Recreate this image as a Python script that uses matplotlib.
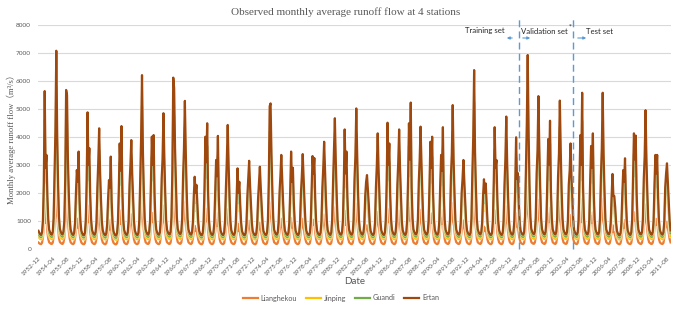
import numpy as np
import pandas as pd
import matplotlib
matplotlib.use("Agg")
import matplotlib.pyplot as plt
import matplotlib.patheffects as pe

# Observed monthly mean runoff (m3/s).
# first row = Dec 1952, then one row per year (Jan..Dec) 1953-2011
ertan = [
    [650],
    [580, 520, 500, 590, 1000, 2300, 5640, 2900, 3360, 1900, 1050, 690],
    [600, 530, 510, 600, 1100, 2600, 4200, 7080, 4100, 2300, 1150, 720],
    [620, 540, 520, 620, 1000, 2500, 5680, 5500, 3200, 2000, 1100, 700],
    [590, 520, 500, 580, 950, 2000, 2820, 2400, 3480, 1800, 1000, 660],
    [560, 500, 490, 570, 1000, 2400, 4880, 3000, 3600, 1900, 1050, 680],
    [590, 520, 510, 600, 950, 2200, 3100, 4310, 2800, 1800, 1000, 670],
    [570, 510, 490, 560, 900, 1800, 2460, 2200, 3300, 1700, 950, 640],
    [550, 490, 480, 560, 950, 2100, 3770, 2800, 4390, 2100, 1050, 680],
    [580, 520, 500, 590, 1000, 2300, 3000, 3890, 2700, 1800, 1000, 660],
    [570, 510, 500, 580, 1050, 2600, 4000, 6210, 3500, 2100, 1100, 700],
    [600, 530, 510, 600, 1000, 2400, 4010, 3000, 4070, 2000, 1050, 690],
    [590, 520, 510, 590, 1050, 2500, 3200, 4850, 3300, 2000, 1050, 690],
    [600, 530, 520, 610, 1150, 2800, 6120, 5740, 3600, 2300, 1150, 720],
    [620, 550, 530, 620, 1100, 2600, 3600, 5290, 3500, 2100, 1100, 700],
    [600, 530, 510, 590, 950, 1900, 2580, 2000, 2290, 1600, 950, 650],
    [560, 500, 490, 570, 950, 2200, 4010, 3100, 4490, 2000, 1050, 680],
    [580, 510, 500, 580, 950, 2000, 3180, 2600, 4040, 1900, 1000, 660],
    [570, 510, 500, 580, 1000, 2200, 3200, 4430, 3000, 1900, 1000, 670],
    [580, 520, 500, 580, 900, 1900, 2880, 2000, 2400, 1600, 950, 640],
    [560, 500, 490, 560, 900, 1900, 2500, 3150, 2300, 1600, 950, 640],
    [560, 500, 490, 560, 900, 1800, 2400, 2940, 2200, 1600, 950, 640],
    [570, 510, 500, 580, 1000, 2400, 5100, 5200, 3400, 2100, 1100, 690],
    [600, 530, 510, 590, 950, 2000, 2600, 3360, 2500, 1700, 1000, 660],
    [580, 520, 500, 580, 950, 2100, 3480, 2400, 2900, 1700, 1000, 660],
    [570, 510, 500, 570, 950, 2000, 2600, 3390, 2500, 1700, 1000, 660],
    [570, 510, 500, 570, 950, 2100, 3320, 2700, 3250, 1800, 1000, 660],
    [570, 510, 500, 580, 1000, 2200, 2900, 3830, 2800, 1800, 1000, 670],
    [580, 520, 500, 590, 1050, 2400, 3500, 4670, 3200, 2000, 1050, 680],
    [590, 520, 510, 590, 1000, 2300, 4270, 2700, 3480, 1900, 1050, 680],
    [590, 520, 510, 590, 1050, 2500, 3300, 5020, 3400, 2000, 1050, 690],
    [600, 530, 510, 590, 900, 1900, 2400, 2640, 2100, 1600, 950, 650],
    [570, 510, 500, 570, 950, 2200, 3000, 4130, 2800, 1900, 1000, 670],
    [580, 520, 500, 580, 1000, 2300, 4510, 3000, 3770, 1900, 1050, 680],
    [590, 520, 510, 590, 1000, 2300, 3100, 4270, 2900, 1900, 1000, 670],
    [580, 520, 500, 590, 1050, 2500, 4490, 3200, 5230, 2200, 1100, 700],
    [610, 540, 520, 610, 1050, 2400, 3200, 4370, 3100, 2000, 1050, 690],
    [600, 530, 510, 600, 1000, 2300, 3830, 2900, 4010, 2000, 1050, 680],
    [590, 520, 510, 590, 1000, 2300, 3360, 2800, 4350, 2000, 1050, 690],
    [600, 530, 520, 600, 1050, 2600, 3400, 5140, 3200, 2000, 1050, 690],
    [600, 530, 510, 590, 950, 2000, 2500, 3180, 2400, 1700, 1000, 660],
    [580, 520, 500, 580, 1100, 2700, 4000, 6390, 3500, 2200, 1100, 710],
    [610, 540, 520, 600, 950, 1900, 2490, 2000, 2340, 1600, 950, 650],
    [570, 510, 500, 570, 1000, 2400, 4350, 2900, 3180, 1800, 1000, 670],
    [580, 520, 500, 580, 1000, 2300, 3200, 4730, 3100, 1900, 1050, 680],
    [590, 520, 510, 590, 1000, 2200, 3990, 2500, 2710, 1700, 1000, 660],
    [580, 520, 510, 600, 1150, 2900, 4500, 6930, 4200, 2300, 1150, 720],
    [620, 550, 530, 620, 1100, 2700, 3500, 5460, 3600, 2200, 1100, 710],
    [610, 540, 520, 610, 1050, 2500, 3930, 3000, 4580, 2100, 1100, 700],
    [610, 540, 520, 610, 1100, 2600, 3400, 5300, 3500, 2100, 1100, 700],
    [610, 540, 520, 600, 1000, 2300, 2800, 3770, 2600, 1800, 1050, 680],
    [590, 530, 510, 590, 1050, 2500, 4070, 3000, 5580, 2200, 1100, 700],
    [610, 540, 520, 610, 1050, 2500, 3680, 2900, 4130, 2000, 1050, 690],
    [600, 530, 520, 600, 1100, 2600, 3600, 5580, 3400, 2100, 1100, 700],
    [610, 540, 520, 600, 950, 1900, 2680, 1900, 1890, 1500, 950, 640],
    [560, 500, 490, 570, 950, 2000, 2820, 2400, 3240, 1800, 1000, 660],
    [580, 520, 500, 590, 1050, 2500, 4130, 3200, 4050, 2000, 1050, 690],
    [600, 530, 520, 600, 1050, 2500, 3300, 4960, 3200, 2000, 1050, 690],
    [600, 530, 510, 600, 1000, 2300, 3360, 2700, 3360, 1900, 1050, 680],
    [590, 530, 510, 590, 1000, 2200, 2700, 3060, 2400, 1700, 1000, 660],
]

guandi = [
    [550],
    [490, 440, 420, 500, 850, 1890, 4620, 2380, 2760, 1580, 880, 580],
    [500, 450, 430, 510, 930, 2130, 3440, 5810, 3360, 1910, 960, 600],
    [520, 460, 440, 520, 850, 2050, 4660, 4510, 2620, 1660, 920, 590],
    [500, 440, 420, 490, 810, 1640, 2310, 1970, 2850, 1490, 840, 560],
    [470, 420, 410, 480, 850, 1970, 4000, 2460, 2950, 1580, 880, 570],
    [500, 440, 430, 500, 810, 1800, 2540, 3530, 2300, 1490, 840, 560],
    [480, 430, 410, 470, 770, 1480, 2020, 1800, 2710, 1410, 800, 540],
    [460, 410, 400, 470, 810, 1720, 3090, 2300, 3600, 1740, 880, 570],
    [490, 440, 420, 500, 850, 1890, 2460, 3190, 2210, 1490, 840, 560],
    [480, 430, 420, 490, 890, 2130, 3280, 5090, 2870, 1740, 920, 590],
    [500, 450, 430, 500, 850, 1970, 3290, 2460, 3340, 1660, 880, 580],
    [500, 440, 430, 500, 890, 2050, 2620, 3980, 2710, 1660, 880, 580],
    [500, 450, 440, 510, 980, 2300, 5020, 4710, 2950, 1910, 960, 600],
    [520, 460, 450, 520, 930, 2130, 2950, 4340, 2870, 1740, 920, 590],
    [500, 450, 430, 500, 810, 1560, 2120, 1640, 1880, 1330, 800, 550],
    [470, 420, 410, 480, 810, 1800, 3290, 2540, 3680, 1660, 880, 570],
    [490, 430, 420, 490, 810, 1640, 2610, 2130, 3310, 1580, 840, 560],
    [480, 430, 420, 490, 850, 1800, 2620, 3630, 2460, 1580, 840, 560],
    [490, 440, 420, 490, 770, 1560, 2360, 1640, 1970, 1330, 800, 540],
    [470, 420, 410, 470, 770, 1560, 2050, 2580, 1890, 1330, 800, 540],
    [470, 420, 410, 470, 770, 1480, 1970, 2410, 1800, 1330, 800, 540],
    [480, 430, 420, 490, 850, 1970, 4180, 4260, 2790, 1740, 920, 580],
    [500, 450, 430, 500, 810, 1640, 2130, 2760, 2050, 1410, 840, 560],
    [490, 440, 420, 490, 810, 1720, 2850, 1970, 2380, 1410, 840, 560],
    [480, 430, 420, 480, 810, 1640, 2130, 2780, 2050, 1410, 840, 560],
    [480, 430, 420, 480, 810, 1720, 2720, 2210, 2670, 1490, 840, 560],
    [480, 430, 420, 490, 850, 1800, 2380, 3140, 2300, 1490, 840, 560],
    [490, 440, 420, 500, 890, 1970, 2870, 3830, 2620, 1660, 880, 570],
    [500, 440, 430, 500, 850, 1890, 3500, 2210, 2850, 1580, 880, 570],
    [500, 440, 430, 500, 890, 2050, 2710, 4120, 2790, 1660, 880, 580],
    [500, 450, 430, 500, 770, 1560, 1970, 2160, 1720, 1330, 800, 550],
    [480, 430, 420, 480, 810, 1800, 2460, 3390, 2300, 1580, 840, 560],
    [490, 440, 420, 490, 850, 1890, 3700, 2460, 3090, 1580, 880, 570],
    [500, 440, 430, 500, 850, 1890, 2540, 3500, 2380, 1580, 840, 560],
    [490, 440, 420, 500, 890, 2050, 3680, 2620, 4290, 1830, 920, 590],
    [510, 460, 440, 510, 890, 1970, 2620, 3580, 2540, 1660, 880, 580],
    [500, 450, 430, 500, 850, 1890, 3140, 2380, 3290, 1660, 880, 570],
    [500, 440, 430, 500, 850, 1890, 2760, 2300, 3570, 1660, 880, 580],
    [500, 450, 440, 500, 890, 2130, 2790, 4210, 2620, 1660, 880, 580],
    [500, 450, 430, 500, 810, 1640, 2050, 2610, 1970, 1410, 840, 560],
    [490, 440, 420, 490, 930, 2210, 3280, 5240, 2870, 1830, 920, 590],
    [510, 460, 440, 500, 810, 1560, 2040, 1640, 1920, 1330, 800, 550],
    [480, 430, 420, 480, 850, 1970, 3570, 2380, 2610, 1490, 840, 560],
    [490, 440, 420, 490, 850, 1890, 2620, 3880, 2540, 1580, 880, 570],
    [500, 440, 430, 500, 850, 1800, 3270, 2050, 2220, 1410, 840, 560],
    [490, 440, 430, 500, 980, 2380, 3690, 5680, 3440, 1910, 960, 600],
    [520, 460, 450, 520, 930, 2210, 2870, 4480, 2950, 1830, 920, 590],
    [510, 460, 440, 510, 890, 2050, 3220, 2460, 3760, 1740, 920, 590],
    [510, 460, 440, 510, 930, 2130, 2790, 4350, 2870, 1740, 920, 590],
    [510, 460, 440, 500, 850, 1890, 2300, 3090, 2130, 1490, 880, 570],
    [500, 450, 430, 500, 890, 2050, 3340, 2460, 4580, 1830, 920, 590],
    [510, 460, 440, 510, 890, 2050, 3020, 2380, 3390, 1660, 880, 580],
    [500, 450, 440, 500, 930, 2130, 2950, 4580, 2790, 1740, 920, 590],
    [510, 460, 440, 500, 810, 1560, 2200, 1560, 1550, 1250, 800, 540],
    [470, 420, 410, 480, 810, 1640, 2310, 1970, 2660, 1490, 840, 560],
    [490, 440, 420, 500, 890, 2050, 3390, 2620, 3320, 1660, 880, 580],
    [500, 450, 440, 500, 890, 2050, 2710, 4070, 2620, 1660, 880, 580],
    [500, 450, 430, 500, 850, 1890, 2760, 2210, 2760, 1580, 880, 570],
    [500, 450, 430, 500, 850, 1800, 2210, 2510, 1970, 1410, 840, 560],
]

jinping = [
    [450],
    [400, 360, 350, 410, 700, 1560, 3840, 1970, 2280, 1290, 730, 480],
    [410, 370, 350, 420, 770, 1770, 2860, 4810, 2790, 1560, 790, 500],
    [420, 370, 360, 430, 700, 1700, 3860, 3740, 2180, 1360, 750, 490],
    [400, 360, 350, 400, 670, 1360, 1920, 1630, 2370, 1220, 700, 460],
    [390, 350, 340, 400, 700, 1630, 3320, 2040, 2450, 1290, 730, 470],
    [410, 360, 350, 410, 670, 1500, 2110, 2930, 1900, 1220, 700, 470],
    [395, 355, 340, 390, 630, 1220, 1670, 1500, 2240, 1160, 670, 450],
    [380, 340, 330, 390, 670, 1430, 2560, 1900, 2990, 1430, 730, 470],
    [400, 360, 350, 410, 700, 1560, 2040, 2650, 1840, 1220, 700, 460],
    [395, 355, 350, 400, 740, 1770, 2720, 4220, 2380, 1430, 770, 490],
    [410, 370, 350, 410, 700, 1630, 2730, 2040, 2770, 1360, 730, 480],
    [410, 360, 350, 410, 740, 1700, 2180, 3300, 2240, 1360, 730, 480],
    [410, 370, 360, 420, 800, 1900, 4160, 3900, 2450, 1560, 800, 500],
    [420, 380, 360, 430, 770, 1770, 2450, 3600, 2380, 1430, 770, 490],
    [410, 370, 350, 410, 670, 1290, 1750, 1360, 1560, 1090, 670, 450],
    [390, 350, 340, 400, 670, 1500, 2730, 2110, 3050, 1360, 730, 470],
    [400, 355, 350, 400, 670, 1360, 2160, 1770, 2750, 1290, 700, 460],
    [395, 355, 350, 400, 700, 1500, 2180, 3010, 2040, 1290, 700, 470],
    [400, 360, 350, 400, 630, 1290, 1960, 1360, 1630, 1090, 670, 450],
    [390, 350, 340, 390, 630, 1290, 1700, 2140, 1560, 1090, 670, 450],
    [390, 350, 340, 390, 630, 1220, 1630, 2000, 1500, 1090, 670, 450],
    [395, 355, 350, 400, 700, 1630, 3470, 3540, 2310, 1430, 770, 480],
    [410, 370, 350, 410, 670, 1360, 1770, 2280, 1700, 1160, 700, 460],
    [400, 360, 350, 400, 670, 1430, 2370, 1630, 1970, 1160, 700, 460],
    [395, 355, 350, 395, 670, 1360, 1770, 2310, 1700, 1160, 700, 460],
    [395, 355, 350, 395, 670, 1430, 2260, 1840, 2210, 1220, 700, 460],
    [395, 355, 350, 400, 700, 1500, 1970, 2600, 1900, 1220, 700, 470],
    [400, 360, 350, 410, 740, 1630, 2380, 3180, 2180, 1360, 730, 470],
    [410, 360, 350, 410, 700, 1560, 2900, 1840, 2370, 1290, 730, 470],
    [410, 360, 350, 410, 740, 1700, 2240, 3410, 2310, 1360, 730, 480],
    [410, 370, 350, 410, 630, 1290, 1630, 1800, 1430, 1090, 670, 450],
    [395, 355, 350, 395, 670, 1500, 2040, 2810, 1900, 1290, 700, 470],
    [400, 360, 350, 400, 700, 1560, 3070, 2040, 2560, 1290, 730, 470],
    [410, 360, 350, 410, 700, 1560, 2110, 2900, 1970, 1290, 700, 470],
    [400, 360, 350, 410, 740, 1700, 3050, 2180, 3560, 1500, 770, 490],
    [420, 370, 360, 420, 740, 1630, 2180, 2970, 2110, 1360, 730, 480],
    [410, 370, 350, 410, 700, 1560, 2600, 1970, 2730, 1360, 730, 470],
    [410, 360, 350, 410, 700, 1560, 2280, 1900, 2960, 1360, 730, 480],
    [410, 370, 360, 410, 740, 1770, 2310, 3500, 2180, 1360, 730, 480],
    [410, 370, 350, 410, 670, 1360, 1700, 2160, 1630, 1160, 700, 460],
    [400, 360, 350, 400, 770, 1840, 2720, 4350, 2380, 1500, 770, 490],
    [420, 370, 360, 410, 670, 1290, 1690, 1360, 1590, 1090, 670, 450],
    [395, 355, 350, 395, 700, 1630, 2960, 1970, 2160, 1220, 700, 470],
    [400, 360, 350, 400, 700, 1560, 2180, 3220, 2110, 1290, 730, 470],
    [410, 360, 350, 410, 700, 1500, 2710, 1700, 1840, 1160, 700, 460],
    [400, 360, 350, 410, 800, 1970, 3060, 4710, 2860, 1560, 800, 500],
    [420, 380, 360, 430, 770, 1840, 2380, 3710, 2450, 1500, 770, 490],
    [420, 370, 360, 420, 740, 1700, 2670, 2040, 3110, 1430, 770, 490],
    [420, 370, 360, 420, 770, 1770, 2310, 3600, 2380, 1430, 770, 490],
    [420, 370, 360, 410, 700, 1560, 1900, 2560, 1770, 1220, 730, 470],
    [410, 370, 350, 410, 740, 1700, 2770, 2040, 3790, 1500, 770, 490],
    [420, 370, 360, 420, 740, 1700, 2500, 1970, 2810, 1360, 730, 480],
    [410, 370, 360, 410, 770, 1770, 2450, 3790, 2310, 1430, 770, 490],
    [420, 370, 360, 410, 670, 1290, 1820, 1290, 1290, 1020, 670, 450],
    [390, 350, 340, 400, 670, 1360, 1920, 1630, 2200, 1220, 700, 460],
    [400, 360, 350, 410, 740, 1700, 2810, 2180, 2750, 1360, 730, 480],
    [410, 370, 360, 410, 740, 1700, 2240, 3370, 2180, 1360, 730, 480],
    [410, 370, 350, 410, 700, 1560, 2280, 1840, 2280, 1290, 730, 470],
    [410, 370, 350, 410, 700, 1500, 1840, 2080, 1630, 1160, 700, 460],
]

lianghekou = [
    [230],
    [200, 180, 175, 220, 400, 740, 1800, 930, 1080, 610, 360, 240],
    [210, 185, 180, 225, 440, 830, 1340, 2260, 1310, 740, 390, 250],
    [215, 190, 180, 230, 400, 800, 1820, 1760, 1020, 640, 370, 245],
    [205, 180, 175, 215, 380, 640, 900, 770, 1110, 580, 350, 235],
    [195, 175, 170, 210, 400, 770, 1560, 960, 1150, 610, 360, 240],
    [205, 180, 175, 220, 380, 700, 990, 1380, 900, 580, 350, 235],
    [200, 175, 170, 205, 360, 580, 790, 700, 1060, 540, 330, 225],
    [190, 170, 165, 205, 380, 670, 1210, 900, 1400, 670, 360, 240],
    [200, 180, 175, 220, 400, 740, 960, 1240, 860, 580, 350, 235],
    [200, 175, 175, 215, 420, 830, 1280, 1990, 1120, 670, 380, 245],
    [210, 185, 180, 220, 400, 770, 1280, 960, 1300, 640, 360, 240],
    [205, 180, 175, 215, 420, 800, 1020, 1550, 1060, 640, 360, 240],
    [210, 185, 180, 225, 460, 900, 1960, 1840, 1150, 740, 400, 250],
    [215, 190, 185, 230, 440, 830, 1150, 1690, 1120, 670, 380, 245],
    [210, 185, 180, 215, 380, 610, 830, 640, 730, 510, 330, 230],
    [195, 175, 170, 210, 380, 700, 1280, 990, 1440, 640, 360, 240],
    [200, 175, 175, 215, 380, 640, 1020, 830, 1290, 610, 350, 235],
    [200, 175, 175, 215, 400, 700, 1020, 1420, 960, 610, 350, 235],
    [200, 180, 175, 215, 360, 610, 920, 640, 770, 510, 330, 225],
    [195, 175, 170, 205, 360, 610, 800, 1010, 740, 510, 330, 225],
    [195, 175, 170, 205, 360, 580, 770, 940, 700, 510, 330, 225],
    [200, 175, 175, 215, 400, 770, 1630, 1660, 1090, 670, 380, 240],
    [210, 185, 180, 215, 380, 640, 830, 1080, 800, 540, 350, 235],
    [200, 180, 175, 215, 380, 670, 1110, 770, 930, 540, 350, 235],
    [200, 175, 175, 210, 380, 640, 830, 1080, 800, 540, 350, 235],
    [200, 175, 175, 210, 380, 670, 1060, 860, 1040, 580, 350, 235],
    [200, 175, 175, 215, 400, 700, 930, 1230, 900, 580, 350, 235],
    [200, 180, 175, 220, 420, 770, 1120, 1490, 1020, 640, 360, 240],
    [205, 180, 175, 215, 400, 740, 1370, 860, 1110, 610, 360, 240],
    [205, 180, 175, 215, 420, 800, 1060, 1610, 1090, 640, 360, 240],
    [210, 185, 180, 215, 360, 610, 770, 850, 670, 510, 330, 230],
    [200, 175, 175, 210, 380, 700, 960, 1320, 900, 610, 350, 235],
    [200, 180, 175, 215, 400, 740, 1440, 960, 1210, 610, 360, 240],
    [205, 180, 175, 215, 400, 740, 990, 1370, 930, 610, 350, 235],
    [200, 180, 175, 215, 420, 800, 1440, 1020, 1670, 700, 380, 245],
    [210, 190, 180, 220, 420, 770, 1020, 1400, 990, 640, 360, 240],
    [210, 185, 180, 220, 400, 740, 1230, 930, 1280, 640, 360, 240],
    [205, 180, 175, 215, 400, 740, 1080, 900, 1390, 640, 360, 240],
    [210, 185, 180, 220, 420, 830, 1090, 1640, 1020, 640, 360, 240],
    [210, 185, 180, 215, 380, 640, 800, 1020, 770, 540, 350, 235],
    [200, 180, 175, 215, 440, 860, 1280, 2040, 1120, 700, 380, 245],
    [210, 190, 180, 215, 380, 610, 800, 640, 750, 510, 330, 230],
    [200, 175, 175, 210, 400, 770, 1390, 930, 1020, 580, 350, 235],
    [200, 180, 175, 215, 400, 740, 1020, 1510, 990, 610, 360, 240],
    [205, 180, 175, 215, 400, 700, 1280, 800, 870, 540, 350, 235],
    [200, 180, 175, 220, 460, 930, 1440, 2220, 1340, 740, 400, 250],
    [215, 190, 185, 230, 440, 860, 1120, 1750, 1150, 700, 380, 245],
    [210, 190, 180, 220, 420, 800, 1260, 960, 1470, 670, 380, 245],
    [210, 190, 180, 220, 440, 830, 1090, 1700, 1120, 670, 380, 245],
    [210, 190, 180, 215, 400, 740, 900, 1210, 830, 580, 360, 240],
    [205, 185, 175, 215, 420, 800, 1300, 960, 1790, 700, 380, 245],
    [210, 190, 180, 220, 420, 800, 1180, 930, 1320, 640, 360, 240],
    [210, 185, 180, 220, 440, 830, 1150, 1790, 1090, 670, 380, 245],
    [210, 190, 180, 215, 380, 610, 860, 610, 600, 480, 330, 225],
    [195, 175, 170, 210, 380, 640, 900, 770, 1040, 580, 350, 235],
    [200, 180, 175, 215, 420, 800, 1320, 1020, 1300, 640, 360, 240],
    [210, 185, 180, 220, 420, 800, 1060, 1590, 1020, 640, 360, 240],
    [210, 185, 180, 220, 400, 740, 1080, 860, 1080, 610, 360, 240],
    [205, 185, 180, 215, 400, 700, 860, 980, 770, 540, 350, 235],
]

stations = ["Lianghekou", "Jinping", "Guandi", "Ertan"]
colors = ["#ED7D31", "#FFC000", "#70AD47", "#9E480E"]
series = [lianghekou, jinping, guandi, ertan]

n = sum(len(r) for r in ertan)
dates = pd.period_range("1952-12", periods=n, freq="M").strftime("%Y-%m")
x = np.arange(n)
split_train_val = 538.5
split_val_test = 598.5

W, H = 685, 311
fig = plt.figure(figsize=(W / 100, H / 100), dpi=100)
ax = fig.add_axes([38 / W, 1 - 249 / H, 633 / W, 224 / H])

grey = "#595959"
for name, col, data in zip(stations, colors, series):
    vals = np.concatenate([np.array(r, dtype=float) for r in data])
    ax.plot(x, vals, color=col, lw=1.6, label=name, solid_joinstyle="round",
            path_effects=[pe.Stroke(linewidth=2.6, foreground="white", alpha=0.5), pe.Normal()])

ax.set_xlim(-0.5, n - 0.5)
ax.set_ylim(0, 8000)
ax.set_yticks(np.arange(0, 8001, 1000))
ax.yaxis.grid(True, color="#D9D9D9", lw=0.8)
ax.set_axisbelow(True)
for s in ax.spines.values():
    s.set_visible(False)
ax.tick_params(length=0, colors=grey, labelsize=4.6, pad=5)
ax.set_xticks(x[::16])
ax.set_xticklabels(dates[::16], rotation=45, ha="right", rotation_mode="anchor",
                   fontsize=4.6, color=grey, family="Lato")
for lab in ax.get_yticklabels():
    lab.set_family("Lato")

# train / validation / test split lines
for xs in [split_train_val, split_val_test]:
    ax.vlines(xs, 0, 8250, colors="#5B9BD5", lw=1.0, linestyles=(0, (5, 3)), clip_on=False)

fig.text(346 / W, 1 - 12 / H, "Observed monthly average runoff flow at 4 stations",
         ha="center", va="center", fontsize=8, color=grey, family="Liberation Serif")
fig.text(11 / W, 1 - 137 / H, "Monthly average runoff flow（m³/s）", rotation=90,
         ha="center", va="center", fontsize=6.2, color=grey,
         family=["Liberation Serif", "Noto Sans CJK SC"])
fig.text(355 / W, 1 - 281 / H, "Date", ha="center", va="center", fontsize=7,
         color=grey, family="Lato")

txt = dict(fontsize=5.6, color="#262626", family="Lato", va="center")
fig.text(485 / W, 1 - 31 / H, "Training set", ha="center", **txt)
fig.text(544 / W, 1 - 31 / H, "Validation set", ha="center", **txt)
fig.text(570 / W, 1 - 26 / H, "*", ha="center", fontsize=4, color="#262626", va="center")
fig.text(600 / W, 1 - 31 / H, "Test set", ha="center", **txt)
arr = dict(arrowstyle="-|>", color="#5B9BD5", lw=0.8, mutation_scale=4)
for x0, x1 in [(515, 504), (520, 533), (575, 589)]:
    fig.add_artist(matplotlib.patches.FancyArrowPatch(
        (x0 / W, 1 - 38 / H), (x1 / W, 1 - 38 / H), transform=fig.transFigure, **arr))

fig.legend(loc="center", bbox_to_anchor=(341 / W, 1 - 298 / H), ncol=4, frameon=False,
           handlelength=2.1, columnspacing=1.2, handletextpad=0.4,
           labelcolor=grey, prop={"family": "Lato", "size": 5.2})

fig.savefig("out.png", dpi=100)
